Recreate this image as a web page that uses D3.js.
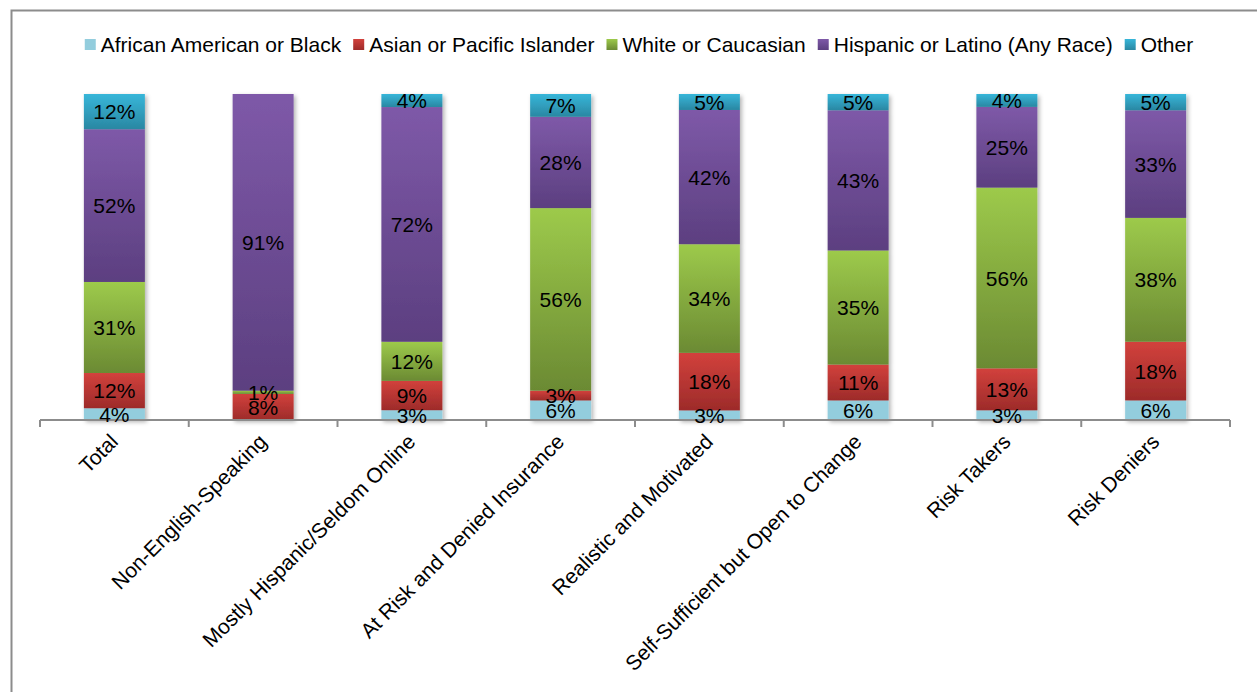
<!DOCTYPE html>
<html>
<head>
<meta charset="utf-8">
<script src="https://cdn.jsdelivr.net/npm/d3@7"></script>
<style>
  body { margin: 0; background: #fff; }
  text { font-family: 'Liberation Sans', Arial, sans-serif; }
</style>
</head>
<body>
<div id="chart"></div>
<script>
const categories = [
  'Total',
  'Non-English-Speaking',
  'Mostly Hispanic/Seldom Online',
  'At Risk and Denied Insurance',
  'Realistic and Motivated',
  'Self-Sufficient but Open to Change',
  'Risk Takers',
  'Risk Deniers'
]

const seriesNames = [
  'African American or Black',
  'Asian or Pacific Islander',
  'White or Caucasian',
  'Hispanic or Latino (Any Race)',
  'Other'
]

const black = [4, 0, 3, 6, 3, 6, 3, 6]
const asian = [12, 8, 9, 3, 18, 11, 13, 18]
const white = [31, 1, 12, 56, 34, 35, 56, 38]
const hispanic = [52, 91, 72, 28, 42, 43, 25, 33]
const other = [12, 0, 4, 7, 5, 5, 4, 5]

const seriesValues = [black, asian, white, hispanic, other]

// gradient stops [top, bottom] per series
const colors = [
  ['#93cddd', '#93cddd'],
  ['#d2413c', '#9d2b2a'],
  ['#9dca4b', '#6b8a33'],
  ['#7e59a8', '#5c3f80'],
  ['#37b6d9', '#2a87a2']
]

const width = 1257
const height = 692

const table = categories.map((c, i) => {
  const row = { category: c }
  seriesNames.forEach((s, j) => { row[s] = seriesValues[j][i] })
  return row
})

// Excel-style 100% stacked: each column is normalised to its own total
const stacked = d3.stack()
  .keys(seriesNames)
  .offset(d3.stackOffsetExpand)(table)

const x = d3.scaleBand()
  .domain(categories)
  .range([40, 1230])
  .paddingInner(0.59)
  .paddingOuter(0.295)

const y = d3.scaleLinear().domain([0, 1]).range([420, 94])

const svg = d3.select('#chart')
  .append('svg')
  .attr('width', width)
  .attr('height', height)

const defs = svg.append('defs')
colors.forEach((c, i) => {
  const g = defs.append('linearGradient')
    .attr('id', 'grad' + i)
    .attr('x1', 0).attr('y1', 0).attr('x2', 0).attr('y2', 1)
  g.append('stop').attr('offset', '0%').attr('stop-color', c[0])
  g.append('stop').attr('offset', '100%').attr('stop-color', c[1])
})

const shadow = defs.append('filter')
  .attr('id', 'shadow')
  .attr('x', '-20%').attr('y', '-20%')
  .attr('width', '150%').attr('height', '150%')
shadow.append('feDropShadow')
  .attr('dx', 2).attr('dy', 2)
  .attr('stdDeviation', 2)
  .attr('flood-color', '#000')
  .attr('flood-opacity', 0.3)

// outer frame
svg.append('rect')
  .attr('x', 11.5).attr('y', 10.5)
  .attr('width', 1300).attr('height', 720)
  .attr('fill', 'none')
  .attr('stroke', '#8c8c8c')
  .attr('stroke-width', 2)

// bars
const bars = svg.append('g').attr('filter', 'url(#shadow)')
bars.selectAll('g')
  .data(stacked)
  .join('g')
  .attr('fill', (d, i) => `url(#grad${i})`)
  .selectAll('rect')
  .data((d) => d)
  .join('rect')
  .attr('x', (d) => x(d.data.category))
  .attr('width', x.bandwidth())
  .attr('y', (d) => y(d[1]))
  .attr('height', (d) => y(d[0]) - y(d[1]))

// axis
const axis = d3.axisBottom(x).tickSize(0).tickFormat('')
const ax = svg.append('g').attr('transform', 'translate(0,420)').call(axis)
ax.select('.domain').attr('stroke', '#8c8c8c').attr('stroke-width', 2)
  .attr('d', 'M40,0H1230')
const step = x.step()
const boundaries = d3.range(categories.length + 1).map((i) => 40 + i * step)
ax.selectAll('.bnd')
  .data(boundaries)
  .join('line')
  .attr('class', 'bnd')
  .attr('x1', (d) => d).attr('x2', (d) => d)
  .attr('y1', 0).attr('y2', 7)
  .attr('stroke', '#8c8c8c')
  .attr('stroke-width', 2)

// category labels
svg.append('g')
  .selectAll('text')
  .data(categories)
  .join('text')
  .attr('transform', (d) => `translate(${x(d) + x.bandwidth() / 2 + 5},${443}) rotate(-45)`)
  .attr('text-anchor', 'end')
  .attr('font-size', 21)
  .attr('fill', '#000')
  .text((d) => d)

// value labels
const labels = svg.append('g')
stacked.forEach((s, i) => {
  labels.selectAll('.l' + i)
    .data(s.filter((d, j) => seriesValues[i][j] > 0))
    .join('text')
    .attr('x', (d) => x(d.data.category) + x.bandwidth() / 2)
    .attr('y', (d) => (y(d[0]) + y(d[1])) / 2)
    .attr('dy', '0.36em')
    .attr('text-anchor', 'middle')
    .attr('font-size', 21)
    .attr('fill', '#000')
    .text((d) => d.data[seriesNames[i]] + '%')
})

// legend
const legend = svg.append('g')
let lx = 0
seriesNames.forEach((name, i) => {
  const g = legend.append('g')
  g.append('rect')
    .attr('x', 0).attr('y', -6)
    .attr('width', 11).attr('height', 11)
    .attr('fill', `url(#grad${i})`)
  const t = g.append('text')
    .attr('x', 16).attr('y', 0)
    .attr('dy', '0.35em')
    .attr('font-size', 21)
    .attr('fill', '#000')
    .text(name)
  const w = 16 + t.node().getComputedTextLength()
  g.attr('transform', `translate(${lx},0)`)
  lx += w + 12
})
const totalW = lx - 12
legend.attr('transform', `translate(${639 - totalW / 2},45)`)
</script>
</body>
</html>
